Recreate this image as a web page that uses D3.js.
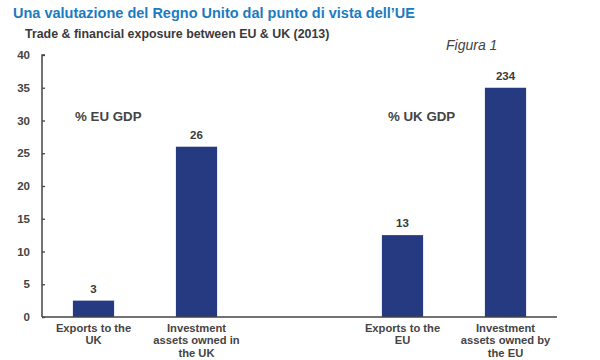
<!DOCTYPE html>
<html><head><meta charset="utf-8">
<script src="https://cdn.jsdelivr.net/npm/d3@7"></script>
<style>body{margin:0;background:#fff;}svg{display:block;}</style>
</head><body>
<script>
const categories = ["Exports to the|UK", "Investment|assets owned in|the UK", "", "Exports to the|EU", "Investment|assets owned by|the EU"];
const values = [2.5, 26, null, 12.5, 35];
const valueLabels = ["3", "26", "", "13", "234"];
const yTicks = [0, 5, 10, 15, 20, 25, 30, 35, 40];
const groupLabels = ["% EU GDP", "% UK GDP"];

const W = 600, H = 360;
const svg = d3.select("body").append("svg").attr("width", W).attr("height", H);
const font = "Arial, 'Liberation Sans', sans-serif";

const x = d3.scaleBand().domain(d3.range(categories.length)).range([42, 557]).paddingInner(0.6).paddingOuter(0.3);
const y = d3.scaleLinear().domain([0, 40]).range([317, 55]);

svg.append("text").attr("x", 13).attr("y", 18).attr("font-family", font).attr("font-weight", "bold")
  .attr("font-size", 14.5).attr("fill", "#1b7bc0").text("Una valutazione del Regno Unito dal punto di vista dell\u2019UE");
svg.append("text").attr("x", 25).attr("y", 38).attr("font-family", font).attr("font-weight", "bold")
  .attr("font-size", 12.4).attr("fill", "#3a3a3a").text("Trade & financial exposure between EU & UK (2013)");
svg.append("text").attr("x", 446).attr("y", 50).attr("font-family", font).attr("font-style", "italic")
  .attr("font-size", 14).attr("fill", "#444").text("Figura 1");

// y axis
const yAxis = d3.axisRight(y).tickValues(yTicks).tickSize(3).tickFormat(d3.format("d"));
const ga = svg.append("g").attr("transform", "translate(42,0)").call(yAxis);
ga.select(".domain").attr("stroke", "#444").attr("stroke-width", 1.5).attr("d", `M3,${y(40)}H0V${y(0)}`);
ga.selectAll(".tick line").attr("stroke", "#444").attr("stroke-width", 1.3);
ga.selectAll(".tick text").attr("x", -12).attr("text-anchor", "end").attr("font-family", font)
  .attr("font-weight", "bold").attr("font-size", 11.5).attr("fill", "#444");

// bars
const idx = d3.range(categories.length).filter(i => values[i] != null);
svg.append("g").selectAll("rect").data(idx).join("rect")
  .attr("x", i => x(i)).attr("width", x.bandwidth())
  .attr("y", i => y(values[i])).attr("height", i => y(0) - y(values[i]))
  .attr("fill", "#263a82");

svg.append("g").selectAll("text").data(idx).join("text")
  .attr("x", i => x(i) + x.bandwidth() / 2).attr("y", i => y(values[i]) - 8)
  .attr("text-anchor", "middle").attr("font-family", font).attr("font-weight", "bold")
  .attr("font-size", 11.5).attr("fill", "#3a3a3a").text(i => valueLabels[i]);

// baseline
svg.append("line").attr("x1", 42).attr("x2", 557).attr("y1", y(0)).attr("y2", y(0))
  .attr("stroke", "#444").attr("stroke-width", 1.5);

// category labels
idx.forEach(i => {
  const t = svg.append("text").attr("text-anchor", "middle").attr("font-family", font)
    .attr("font-weight", "bold").attr("font-size", 11.2).attr("fill", "#444");
  categories[i].split("|").forEach((ln, k) => {
    t.append("tspan").attr("x", x(i) + x.bandwidth() / 2).attr("y", 331.5 + k * 12.9).text(ln);
  });
});

// group labels
svg.append("text").attr("x", 75).attr("y", 121).attr("font-family", font).attr("font-weight", "bold")
  .attr("font-size", 13.3).attr("fill", "#444").text(groupLabels[0]);
svg.append("text").attr("x", 388).attr("y", 121).attr("font-family", font).attr("font-weight", "bold")
  .attr("font-size", 13.3).attr("fill", "#444").text(groupLabels[1]);
</script>
</body></html>
